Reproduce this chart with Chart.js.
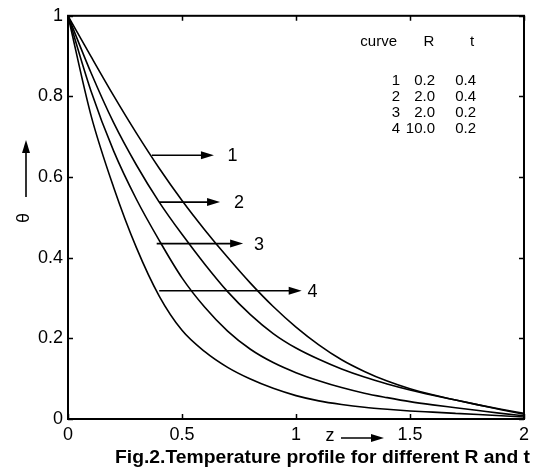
<!DOCTYPE html>
<html>
<head>
<meta charset="utf-8">
<script src="https://cdn.jsdelivr.net/npm/chart.js@4.4.1/dist/chart.umd.min.js"></script>
<style>
  html, body { margin: 0; padding: 0; background: #fff; }
  #wrap { width: 534px; height: 470px; position: relative; }
</style>
</head>
<body>
<div id="wrap"><canvas id="c" width="534" height="470"></canvas></div>
<script>
// ---- data ----
const zValues = [0, 0.1, 0.2, 0.3, 0.4, 0.5, 0.6, 0.7, 0.8, 0.9, 1.0, 1.1, 1.2, 1.3, 1.4, 1.5, 1.6, 1.7, 1.8, 1.9, 2.0];
const curve1 = [1, 0.90, 0.802, 0.709, 0.622, 0.542, 0.469, 0.401, 0.337, 0.279, 0.228, 0.184, 0.147, 0.118, 0.094, 0.075, 0.060, 0.047, 0.035, 0.024, 0.014];
const curve2 = [1, 0.86, 0.735, 0.63, 0.538, 0.458, 0.384, 0.316, 0.259, 0.212, 0.176, 0.148, 0.124, 0.104, 0.087, 0.072, 0.059, 0.047, 0.035, 0.023, 0.012];
const curve3 = [1, 0.815, 0.665, 0.545, 0.443, 0.35, 0.277, 0.218, 0.173, 0.14, 0.115, 0.095, 0.078, 0.064, 0.053, 0.043, 0.035, 0.028, 0.021, 0.014, 0.008];
const curve4 = [1, 0.755, 0.575, 0.425, 0.305, 0.22, 0.167, 0.128, 0.099, 0.076, 0.058, 0.045, 0.036, 0.029, 0.024, 0.020, 0.017, 0.014, 0.011, 0.008, 0.005];
const curveNames = ['1', '2', '3', '4'];
const xTickValues = [0, 0.5, 1, 1.5, 2];
const yTickValues = [0, 0.2, 0.4, 0.6, 0.8, 1];
// legend table
const tableHeader = ['curve', 'R', 't'];
const tableR = ['0.2', '2.0', '2.0', '10.0'];
const tableT = ['0.4', '0.4', '0.2', '0.2'];
// arrow annotations (data coords): theta level, start z (on curve), tip z, label z
const arrowTheta = [0.654, 0.538, 0.435, 0.318];
const arrowStartZ = [0.368, 0.40, 0.389, 0.40];
const arrowTipZ = [0.64, 0.667, 0.768, 1.025];
const arrowLabelZ = [0.70, 0.728, 0.816, 1.05];
const captionText = 'Fig.2.Temperature profile for different R and t';

const allCurves = [curve1, curve2, curve3, curve4];
const datasets = allCurves.map((c, i) => ({
  label: 'curve ' + curveNames[i],
  data: zValues.map((z, k) => ({ x: z, y: c[k] })),
  borderColor: '#000',
  borderWidth: 1.6,
  pointRadius: 0,
  fill: false,
  cubicInterpolationMode: 'monotone'
}));

function arrowHead(ctx, x, y, dir) {
  ctx.beginPath();
  if (dir === 'right') {
    ctx.moveTo(x, y);
    ctx.lineTo(x - 13, y - 4);
    ctx.lineTo(x - 13, y + 4);
  } else {
    ctx.moveTo(x, y);
    ctx.lineTo(x - 4, y + 13);
    ctx.lineTo(x + 4, y + 13);
  }
  ctx.closePath();
  ctx.fill();
}

const fmt = v => String(+Number(v).toFixed(2));

const decor = {
  id: 'decor',
  afterDraw(chart) {
    const ctx = chart.ctx;
    const xs = chart.scales.x, ys = chart.scales.y;
    const a = chart.chartArea;
    ctx.save();
    ctx.strokeStyle = '#000';
    ctx.fillStyle = '#000';
    // frame
    ctx.lineWidth = 2;
    ctx.strokeRect(a.left, a.top, a.right - a.left, a.bottom - a.top);
    // inward ticks
    ctx.lineWidth = 1.5;
    const tl = 5;
    xTickValues.forEach(v => {
      const px = Math.round(xs.getPixelForValue(v)) + 0.5;
      ctx.beginPath();
      ctx.moveTo(px, a.bottom); ctx.lineTo(px, a.bottom - tl);
      ctx.moveTo(px, a.top); ctx.lineTo(px, a.top + tl);
      ctx.stroke();
    });
    yTickValues.forEach(v => {
      const py = Math.round(ys.getPixelForValue(v)) + 0.5;
      ctx.beginPath();
      ctx.moveTo(a.left, py); ctx.lineTo(a.left + tl, py);
      ctx.moveTo(a.right, py); ctx.lineTo(a.right - tl, py);
      ctx.stroke();
    });
    // curve arrows
    ctx.lineWidth = 1.6;
    ctx.font = '18px "Liberation Sans", Arial, sans-serif';
    ctx.textBaseline = 'middle';
    ctx.textAlign = 'left';
    arrowTheta.forEach((th, i) => {
      const y = ys.getPixelForValue(th);
      const x0 = xs.getPixelForValue(arrowStartZ[i]);
      const x1 = xs.getPixelForValue(arrowTipZ[i]);
      ctx.beginPath();
      ctx.moveTo(x0, y); ctx.lineTo(x1 - 10, y);
      ctx.stroke();
      arrowHead(ctx, x1, y, 'right');
      ctx.fillText(curveNames[i], xs.getPixelForValue(arrowLabelZ[i]), y + 1);
    });
    // legend table
    ctx.font = '15px "Liberation Sans", Arial, sans-serif';
    ctx.textAlign = 'right';
    ctx.fillText(tableHeader[0], 397, 42);
    ctx.textAlign = 'center';
    ctx.fillText(tableHeader[1], 429, 42);
    ctx.fillText(tableHeader[2], 472, 42);
    ctx.textAlign = 'right';
    for (let i = 0; i < curveNames.length; i++) {
      const y = 81 + i * 16;
      ctx.fillText(curveNames[i], 400, y);
      ctx.fillText(tableR[i], 435, y);
      ctx.fillText(tableT[i], 476, y);
    }
    // y-axis label theta with arrow
    ctx.save();
    ctx.translate(24, 218);
    ctx.rotate(-Math.PI / 2);
    ctx.font = '18px "Liberation Sans", Arial, sans-serif';
    ctx.textAlign = 'center';
    ctx.textBaseline = 'middle';
    ctx.fillText('θ', 0, 0);
    ctx.restore();
    ctx.lineWidth = 1.6;
    ctx.beginPath();
    ctx.moveTo(26, 197); ctx.lineTo(26, 150);
    ctx.stroke();
    arrowHead(ctx, 26, 140, 'up');
    // x-axis label z with arrow
    ctx.font = '18px "Liberation Sans", Arial, sans-serif';
    ctx.textAlign = 'center';
    ctx.textBaseline = 'middle';
    ctx.fillText('z', 330, 436);
    ctx.beginPath();
    ctx.moveTo(341, 438); ctx.lineTo(375, 438);
    ctx.stroke();
    arrowHead(ctx, 384, 438, 'right');
    // caption (stretched horizontally to the reference width)
    ctx.font = 'bold 18px "Liberation Sans", Arial, sans-serif';
    ctx.textAlign = 'left';
    ctx.textBaseline = 'alphabetic';
    const w = ctx.measureText(captionText).width;
    const sx = 415 / w;
    ctx.save();
    ctx.translate(115, 463);
    ctx.scale(sx, 1);
    ctx.fillText(captionText, 0, 0);
    ctx.restore();
    ctx.restore();
  }
};

new Chart(document.getElementById('c'), {
  type: 'line',
  data: { datasets },
  options: {
    responsive: false,
    animation: false,
    events: [],
    layout: { padding: { left: 0, right: 10, top: 13, bottom: 0 } },
    plugins: { legend: { display: false }, tooltip: { enabled: false } },
    scales: {
      x: {
        type: 'linear', min: 0, max: 2,
        grid: { display: false, drawTicks: false },
        border: { display: false },
        ticks: {
          stepSize: 0.5, color: '#000', padding: 5, maxRotation: 0,
          font: { size: 18, family: '"Liberation Sans", Arial, sans-serif' },
          callback: v => fmt(v)
        },
        afterFit(s) { s.height = 51; }
      },
      y: {
        type: 'linear', min: 0, max: 1,
        grid: { display: false, drawTicks: false },
        border: { display: false },
        ticks: {
          stepSize: 0.2, color: '#000', padding: 5,
          font: { size: 18, family: '"Liberation Sans", Arial, sans-serif' },
          callback: v => fmt(v)
        },
        afterFit(s) { s.width = 68; }
      }
    }
  },
  plugins: [decor]
});
</script>
</body>
</html>
